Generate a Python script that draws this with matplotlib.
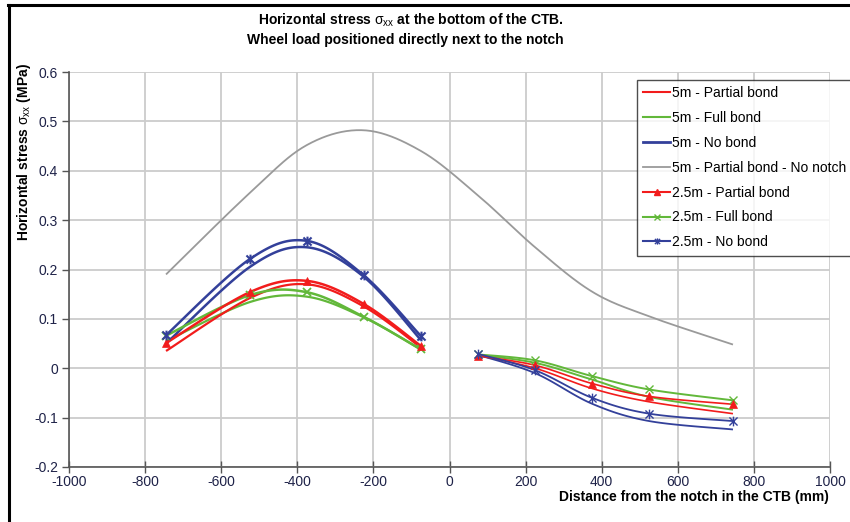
import numpy as np
import matplotlib
matplotlib.use("Agg")
import matplotlib.pyplot as plt
from matplotlib.lines import Line2D
from matplotlib.path import Path

plt.rcParams['font.family'] = ['Liberation Sans', 'DejaVu Sans']
plt.rcParams['mathtext.fontset'] = 'custom'
plt.rcParams['mathtext.rm'] = 'Liberation Sans'
plt.rcParams['mathtext.it'] = 'Liberation Sans'
plt.rcParams['mathtext.bf'] = 'Liberation Sans:bold'

# ---- data ----
x_left = [-745, -525, -375, -225, -75]
x_right = [75, 225, 375, 525, 745]
x_all = x_left + x_right

m5_partial_l = [0.035, 0.142, 0.170, 0.125, 0.042]
m5_partial_r = [0.026, 0.000, -0.041, -0.068, -0.092]
m5_full_l = [0.055, 0.134, 0.145, 0.103, 0.038]
m5_full_r = [0.027, 0.011, -0.023, -0.058, -0.084]
m5_nobond_l = [0.050, 0.205, 0.245, 0.185, 0.057]
m5_nobond_r = [0.027, -0.010, -0.072, -0.107, -0.124]
m5_nonotch = [0.19, 0.355, 0.452, 0.482, 0.44, 0.35, 0.245, 0.155, 0.105, 0.048]

m25_partial_l = [0.051, 0.154, 0.177, 0.130, 0.045]
m25_partial_r = [0.025, 0.006, -0.031, -0.057, -0.073]
m25_full_l = [0.066, 0.148, 0.154, 0.104, 0.038]
m25_full_r = [0.028, 0.016, -0.016, -0.043, -0.065]
m25_nobond_l = [0.067, 0.221, 0.258, 0.188, 0.065]
m25_nobond_r = [0.029, -0.004, -0.060, -0.092, -0.107]

labels = ['5m - Partial bond', '5m - Full bond', '5m - No bond',
          '5m - Partial bond - No notch', '2.5m - Partial bond',
          '2.5m - Full bond', '2.5m - No bond']
x_ticks = [-1000, -800, -600, -400, -200, 0, 200, 400, 600, 800, 1000]
y_ticks = [-0.2, -0.1, 0, 0.1, 0.2, 0.3, 0.4, 0.5, 0.6]

RED = '#f21c1c'
GREEN = '#62b83a'
BLUE = '#33409a'
GRAY = '#9a9a9a'
TXT = '#1e2248'


def smooth(x, y, n=24):
    P = np.column_stack([np.asarray(x, float), np.asarray(y, float)])
    Pe = np.vstack([P[0], P, P[-1]])
    out = []
    t = np.linspace(0, 1, n)[:, None]
    for i in range(len(P) - 1):
        p0, p1, p2, p3 = Pe[i], Pe[i + 1], Pe[i + 2], Pe[i + 3]
        c1 = p1 + (p2 - p0) / 6
        c2 = p2 - (p3 - p1) / 6
        seg = (1 - t) ** 3 * p1 + 3 * (1 - t) ** 2 * t * c1 + 3 * (1 - t) * t ** 2 * c2 + t ** 3 * p2
        out.append(seg if i == 0 else seg[1:])
    s = np.vstack(out)
    return s[:, 0], s[:, 1]


# Excel-style star marker: an "x" plus a vertical bar
star = Path([(-1, -1), (1, 1), (-1, 1), (1, -1), (0, -1.2), (0, 1.2)],
            [Path.MOVETO, Path.LINETO, Path.MOVETO, Path.LINETO, Path.MOVETO, Path.LINETO])

fig = plt.figure(figsize=(8.5, 5.22), dpi=100)
ax = fig.add_axes([69 / 850, 1 - 467 / 522, (830 - 69) / 850, (467 - 72) / 522])


def draw(xs, ys, color, lw, marker=None, ms=6, mew=1.2, z=3):
    sx, sy = smooth(xs, ys)
    ax.plot(sx, sy, color=color, lw=lw, zorder=z, solid_capstyle='butt')
    if marker is not None:
        ax.plot(xs, ys, ls='none', marker=marker, color=color, ms=ms,
                mew=mew, mfc=color, zorder=z + 1)


# grey no-notch line
draw(x_all, m5_nonotch, GRAY, 1.3)
# 5m lines
draw(x_left, m5_full_l, GREEN, 1.6)
draw(x_right, m5_full_r, GREEN, 1.4)
draw(x_left, m5_partial_l, RED, 1.6)
draw(x_right, m5_partial_r, RED, 1.2)
draw(x_left, m5_nobond_l, BLUE, 1.8)
draw(x_right, m5_nobond_r, BLUE, 1.3)
# 2.5m lines with markers
draw(x_left, m25_full_l, GREEN, 1.8, 'x', ms=6, mew=1.3)
draw(x_right, m25_full_r, GREEN, 1.4, 'x', ms=6, mew=1.0)
draw(x_left, m25_partial_l, RED, 1.8, '^', ms=6, mew=0.5)
draw(x_right, m25_partial_r, RED, 1.2, '^', ms=6, mew=0.5)
draw(x_left, m25_nobond_l, BLUE, 1.8, star, ms=7, mew=1.5)
draw(x_right, m25_nobond_r, BLUE, 1.3, star, ms=7, mew=1.0)

ax.set_xlim(-1000, 1000)
ax.set_ylim(-0.2, 0.6)
ax.set_xticks(x_ticks)
ax.set_yticks(y_ticks)
ax.set_xticklabels([str(v) for v in x_ticks])
ax.set_yticklabels([('%g' % v) for v in y_ticks])
ax.grid(True, color='#cccccc', lw=1.3)
ax.set_axisbelow(True)
for s in ['top', 'right']:
    ax.spines[s].set_visible(False)
for s in ['left', 'bottom']:
    ax.spines[s].set_color('#555555')
    ax.spines[s].set_linewidth(1.2)
ax.tick_params(axis='y', direction='out', length=5, width=1, color='#555555',
               labelsize=10, labelcolor=TXT, pad=3)
ax.tick_params(axis='x', direction='inout', length=8, width=1, color='#555555',
               labelsize=10, labelcolor=TXT, pad=2)

# legend
handles = [
    Line2D([], [], color=RED, lw=1.5),
    Line2D([], [], color=GREEN, lw=1.5),
    Line2D([], [], color=BLUE, lw=2),
    Line2D([], [], color=GRAY, lw=1.3),
    Line2D([], [], color=RED, lw=1.5, marker='^', ms=4),
    Line2D([], [], color=GREEN, lw=1.5, marker='x', ms=4, mew=1),
    Line2D([], [], color=BLUE, lw=1.5, marker=star, ms=4.5, mew=1),
]
leg = fig.legend(handles, labels, loc='upper left',
                 bbox_to_anchor=(637 / 850, 1 - 80 / 522), fontsize=10,
                 frameon=True, fancybox=False, edgecolor='#222222',
                 handlelength=1.95, handletextpad=0.1, labelspacing=0.78,
                 borderpad=0.45, borderaxespad=0)
leg.get_frame().set_linewidth(1.0)

# titles and labels
fig.text(411 / 850, 1 - 20 / 522, r'Horizontal stress $\sigma_{xx}$ at the bottom of the CTB.',
         ha='center', va='center', fontsize=10, fontweight='bold')
fig.text(405 / 850, 1 - 40 / 522, 'Wheel load positioned directly next to the notch',
         ha='center', va='center', fontsize=10, fontweight='bold')
fig.text(24 / 850, 1 - 152 / 522, r'Horizontal stress $\sigma_{xx}$ (MPa)',
         rotation=90, ha='center', va='center', fontsize=10, fontweight='bold')
fig.text(829 / 850, 1 - 497 / 522, 'Distance from the notch in the CTB (mm)',
         ha='right', va='center', fontsize=10, fontweight='bold')

# figure border lines (top & left)
fig.add_artist(Line2D([8 / 850, 1], [1 - 5 / 522, 1 - 5 / 522], color='black', lw=2.2,
                      transform=fig.transFigure))
fig.add_artist(Line2D([9 / 850, 9 / 850], [0, 1 - 5 / 522], color='black', lw=2.2,
                      transform=fig.transFigure))

fig.savefig('out.png', dpi=100)
